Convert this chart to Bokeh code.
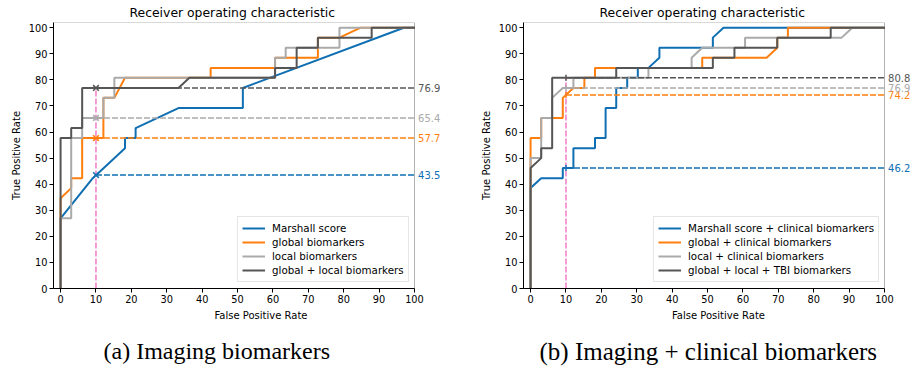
import numpy as np
from bokeh.plotting import figure
from bokeh.layouts import row
from bokeh.models import Legend, LegendItem, Title, FixedTicker, Range1d, Label, BoxAnnotation
from bokeh.embed import file_html
from bokeh.resources import INLINE

# ---------------- data: (a) imaging biomarkers ----------------
a_marshall_fpr = [0, 0, 9.1, 18.2, 18.2, 21.2, 21.2, 33.3, 51.5, 51.5, 97.0, 100]
a_marshall_tpr = [0, 26.9, 42.3, 53.8, 57.7, 57.7, 61.5, 69.2, 69.2, 76.9, 100, 100]
a_global_fpr = [0, 0, 3.0, 3.0, 6.1, 6.1, 12.1, 12.1, 15.2, 18.2, 42.4, 42.4, 60.6, 60.6, 72.7, 72.7, 78.8, 84.8, 100]
a_global_tpr = [0, 34.6, 38.5, 42.3, 42.3, 57.7, 57.7, 73.1, 73.1, 80.8, 80.8, 84.6, 84.6, 88.5, 88.5, 96.2, 96.2, 100, 100]
a_local_fpr = [0, 0, 3.0, 3.0, 6.1, 6.1, 12.1, 12.1, 15.2, 15.2, 60.6, 60.6, 63.6, 63.6, 78.8, 78.8, 100]
a_local_tpr = [0, 26.9, 26.9, 57.7, 57.7, 65.4, 65.4, 73.1, 73.1, 80.8, 80.8, 88.5, 88.5, 92.3, 92.3, 100, 100]
a_gl_fpr = [0, 0, 3.0, 3.0, 6.1, 6.1, 33.3, 36.4, 60.6, 60.6, 66.7, 66.7, 72.7, 72.7, 87.9, 87.9, 100]
a_gl_tpr = [0, 57.7, 57.7, 61.5, 61.5, 76.9, 76.9, 80.8, 80.8, 84.6, 84.6, 92.3, 92.3, 96.2, 96.2, 100, 100]
a_names = ["Marshall score", "global biomarkers", "local biomarkers", "global + local biomarkers"]
a_tpr_at_cut = [43.5, 57.7, 65.4, 76.9]

# ---------------- data: (b) imaging + clinical biomarkers ----------------
b_marshall_fpr = [0, 0, 3.0, 9.1, 9.1, 12.1, 12.1, 18.2, 18.2, 21.2, 21.2, 24.2, 24.2, 27.3, 27.3, 30.3, 30.3, 33.3, 36.4, 36.4, 51.5, 51.5, 54.5, 100]
b_marshall_tpr = [0, 38.5, 42.3, 42.3, 46.2, 46.2, 53.8, 53.8, 57.7, 57.7, 69.2, 69.2, 76.9, 76.9, 80.8, 80.8, 84.6, 84.6, 88.5, 92.3, 92.3, 96.2, 100, 100]
b_global_fpr = [0, 0, 3.0, 3.0, 9.1, 9.1, 12.1, 15.2, 15.2, 18.2, 18.2, 48.5, 48.5, 66.7, 69.7, 69.7, 72.7, 72.7, 100]
b_global_tpr = [0, 57.7, 57.7, 65.4, 65.4, 73.1, 76.9, 76.9, 80.8, 80.8, 84.6, 84.6, 88.5, 88.5, 92.3, 96.2, 96.2, 100, 100]
b_local_fpr = [0, 0, 3.0, 3.0, 6.1, 6.1, 9.1, 12.1, 12.1, 33.3, 33.3, 45.5, 45.5, 48.5, 60.6, 60.6, 87.9, 90.9, 100]
b_local_tpr = [0, 50.0, 50.0, 65.4, 65.4, 73.1, 76.9, 76.9, 80.8, 80.8, 84.6, 84.6, 88.5, 92.3, 92.3, 96.2, 96.2, 100, 100]
b_glt_fpr = [0, 0, 3.0, 3.0, 6.1, 6.1, 24.2, 24.2, 51.5, 51.5, 57.6, 57.6, 69.7, 69.7, 84.8, 84.8, 100]
b_glt_tpr = [0, 46.2, 50.0, 53.8, 53.8, 80.8, 80.8, 84.6, 84.6, 88.5, 88.5, 92.3, 92.3, 96.2, 96.2, 100, 100]
b_names = ["Marshall score + clinical biomarkers", "global + clinical biomarkers",
           "local + clinical biomarkers", "global + local + TBI biomarkers"]
b_tpr_at_cut = [46.2, 74.2, 76.9, 80.8]

fpr_cut = 10
ticks = list(range(0, 101, 10))
title_text = "Receiver operating characteristic"
x_label = "False Positive Rate"
y_label = "True Positive Rate"
captions = ["(a) Imaging biomarkers", "(b) Imaging + clinical biomarkers"]

colors = ["#0f6fb2", "#ff7f0e", "#aaaaaa", "#555555"]
pink = "#f07cc4"
FONT = "DejaVu Sans"
DASH = "6 2"

X0, X1 = -2, 100          # visible axes box
Y0, Y1 = 0, 102
PPU = 361 / (X1 - X0)     # pixels per unit of the axes box
HEIGHT = 376


def make_panel(fprs, tprs, names, cut_vals, caption, cap_offset, cap_size, marker,
               width, left_b, legend_loc):
    frame_w = width - left_b
    p = figure(width=width, height=HEIGHT, output_backend="svg", toolbar_location=None,
               x_range=Range1d(X0, X0 + frame_w / PPU), y_range=Range1d(Y0, Y1),
               min_border_left=left_b, min_border_right=0,
               min_border_top=0, min_border_bottom=0)
    p.background_fill_color = "white"
    p.border_fill_color = "white"
    p.grid.visible = False
    p.outline_line_color = None

    p.title.text = title_text
    p.title.align = "left"
    p.title.offset = 76
    p.title.text_font = FONT
    p.title.text_font_size = "12.4px"
    p.title.text_font_style = "normal"
    p.title.text_color = "black"
    p.title.standoff = 5

    for ax in (p.xaxis, p.yaxis):
        ax.ticker = FixedTicker(ticks=ticks)
        ax.major_tick_out = 4
        ax.major_tick_in = 0
        ax.minor_tick_line_color = None
        ax.major_label_text_font = FONT
        ax.major_label_text_font_size = "9.8px"
        ax.major_label_text_color = "black"
        ax.axis_label_text_font = FONT
        ax.axis_label_text_font_size = "10px"
        ax.axis_label_text_font_style = "normal"
        ax.axis_label_text_color = "black"
        ax.axis_line_color = "black"
        ax.major_tick_line_color = "black"
        ax.major_label_standoff = 2
        ax.axis_label_standoff = 4
    p.xaxis.bounds = (X0, X1)
    p.xaxis.axis_label = x_label
    p.yaxis.axis_label = y_label

    # axes box (spines)
    p.add_layout(BoxAnnotation(left=X0, right=X1, bottom=Y0, top=Y1,
                               fill_alpha=0, line_color="black", line_width=1))

    renderers = []
    for fx, fy, c in zip(fprs, tprs, colors):
        r = p.line(fx, fy, line_color=c, line_width=2)
        renderers.append(r)

    p.segment(x0=[fpr_cut], y0=[0], x1=[fpr_cut], y1=[max(cut_vals)],
              line_color=pink, line_width=1.5, line_dash=DASH)
    p.segment(x0=[fpr_cut] * len(cut_vals), y0=cut_vals, x1=[100] * len(cut_vals), y1=cut_vals,
              line_color=colors, line_width=1.5, line_dash=DASH)
    if marker == "x":
        p.scatter([fpr_cut] * len(cut_vals), cut_vals, marker="x", size=8,
                  line_color=colors, line_width=1.5)
    else:
        p.scatter([fpr_cut] * len(cut_vals), cut_vals, marker="dash", angle=np.pi / 2,
                  size=6, line_color=colors, line_width=1.5)

    for v, c in zip(cut_vals, colors):
        p.add_layout(Label(x=101, y=v, text=f"{v:.1f}", text_color=c,
                           text_font=FONT, text_font_size="10px",
                           text_baseline="alphabetic", text_align="left"))

    legend = Legend(items=[LegendItem(label=n, renderers=[r]) for n, r in zip(names, renderers)],
                    location=legend_loc)
    legend.margin = 0
    legend.padding = 4
    legend.spacing = 0
    legend.label_standoff = 7
    legend.glyph_width = 23
    legend.glyph_height = 14
    legend.label_height = 14
    legend.label_text_font = FONT
    legend.label_text_font_size = "10.3px"
    legend.label_text_color = "black"
    legend.border_line_color = "#cccccc"
    legend.border_line_width = 1
    legend.background_fill_alpha = 0.85
    p.add_layout(legend)

    cap = Title(text=caption, align="left", offset=cap_offset,
                text_font="Liberation Serif", text_font_size=cap_size,
                text_font_style="normal", text_color="black", standoff=24)
    p.add_layout(cap, "below")
    return p


p1 = make_panel([a_marshall_fpr, a_global_fpr, a_local_fpr, a_gl_fpr],
                [a_marshall_tpr, a_global_tpr, a_local_tpr, a_gl_tpr],
                a_names, a_tpr_at_cut, captions[0], 50, "24px", "x",
                width=468, left_b=53, legend_loc=(184, 6))
p2 = make_panel([b_marshall_fpr, b_global_fpr, b_local_fpr, b_glt_fpr],
                [b_marshall_tpr, b_global_tpr, b_local_tpr, b_glt_tpr],
                b_names, b_tpr_at_cut, captions[1], 16, "25px", "|",
                width=445, left_b=55, legend_loc=(130, 6))

layout = row(p1, p2)
open("out.html", "w").write(file_html(layout, INLINE))
